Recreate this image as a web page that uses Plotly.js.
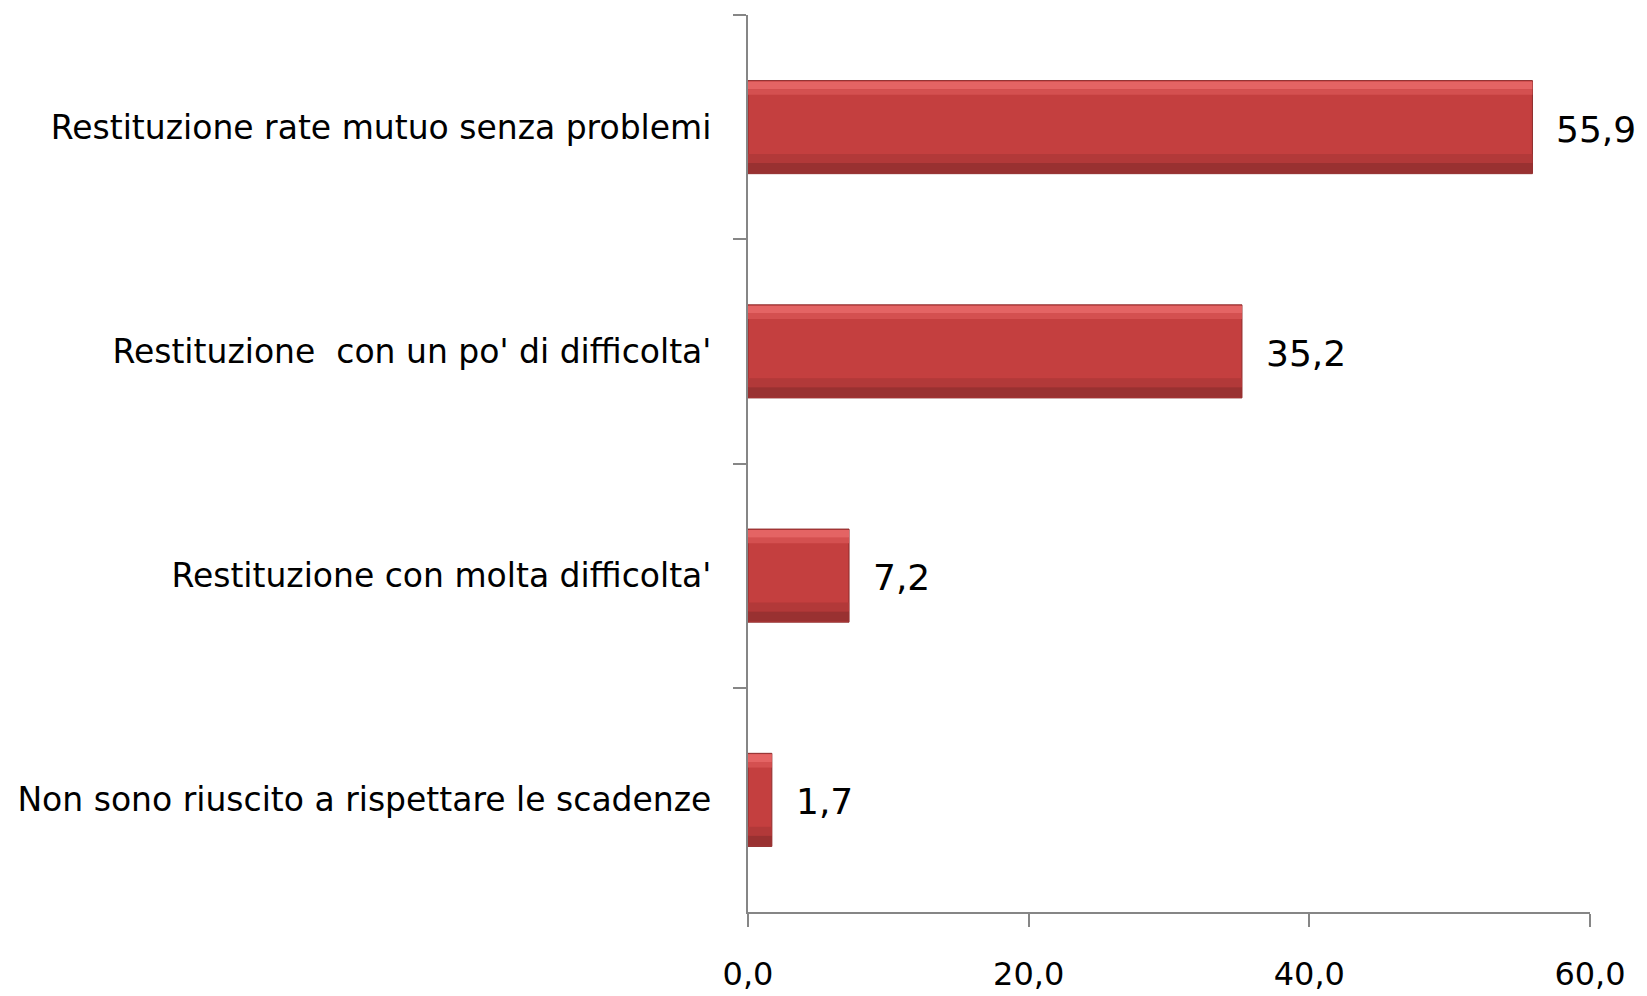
<!DOCTYPE html>
<html>
<head>
<meta charset="utf-8">
<script src="https://cdn.plot.ly/plotly-3.0.1.min.js"></script>
<style>
  body{margin:0;padding:0;background:#ffffff;}
  #plot{width:1647px;height:996px;}
</style>
</head>
<body>
<div id="plot"></div>
<script>
// categorie e valori (percentuali)
var categorie=[
  'Restituzione rate mutuo senza problemi',
  "Restituzione  con un po' di difficolta'",
  "Restituzione con molta difficolta'",
  'Non sono riuscito a rispettare le scadenze'
];
var valori=[55.9,35.2,7.2,1.7];
var etichette=['55,9','35,2','7,2','1,7'];

var FONT_LAB='"DejaVu Sans","Liberation Sans",Arial,sans-serif';
var FONT_VAL='"DejaVu Sans","Liberation Sans",Arial,sans-serif';

//strisce per effetto rilievo: [offset, larghezza, colore]
function striscia(off,w,col)
{
  return {
    type:'bar',orientation:'h',x:valori,y:categorie,
    width:w,offset:off,
    marker:{color:col,line:{width:0}},
    hoverinfo:'skip'
  };
}

var data=[
  {
    type:'bar',orientation:'h',x:valori,y:categorie,
    width:0.415,offset:-0.2075,
    marker:{color:'#C43F3F',line:{color:'#8E2C2C',width:1}},
    hoverinfo:'x'
  },
  striscia(-0.204,0.035,'#E46464'),
  striscia(-0.169,0.025,'#D45050'),
  striscia(0.12,0.04,'#B23939'),
  striscia(0.16,0.045,'#993131')
];

var annotazioni=[];
for (let i=0;i<valori.length;i++)
{
  annotazioni.push({
    x:valori[i],y:categorie[i],text:etichette[i],
    xanchor:'left',yanchor:'middle',xshift:22,yshift:-2,showarrow:false,
    font:{family:FONT_VAL,size:36,color:'#000000'}
  });
}

var layout={
  width:1647,height:996,
  paper_bgcolor:'#ffffff',plot_bgcolor:'#ffffff',
  showlegend:false,barmode:'overlay',
  separators:',.',
  margin:{l:748,r:57,t:15,b:84},
  xaxis:{
    range:[0,60],dtick:20,tick0:0,tickformat:'.1f',
    showgrid:false,zeroline:false,
    showline:true,linecolor:'#868686',linewidth:2,
    ticks:'outside',ticklen:13,tickwidth:2,tickcolor:'#868686',
    ticklabelstandoff:20,
    tickfont:{family:FONT_LAB,size:32,color:'#000000'}
  },
  yaxis:{
    autorange:'reversed',
    showgrid:false,zeroline:false,
    showline:true,linecolor:'#868686',linewidth:2,
    ticks:'outside',ticklen:13,tickwidth:2,tickcolor:'#868686',
    tickson:'boundaries',
    ticklabelstandoff:28,
    tickfont:{family:FONT_LAB,size:33,color:'#000000'}
  },
  annotations:annotazioni
};

Plotly.newPlot('plot',data,layout,{displayModeBar:false,staticPlot:true});
</script>
</body>
</html>
